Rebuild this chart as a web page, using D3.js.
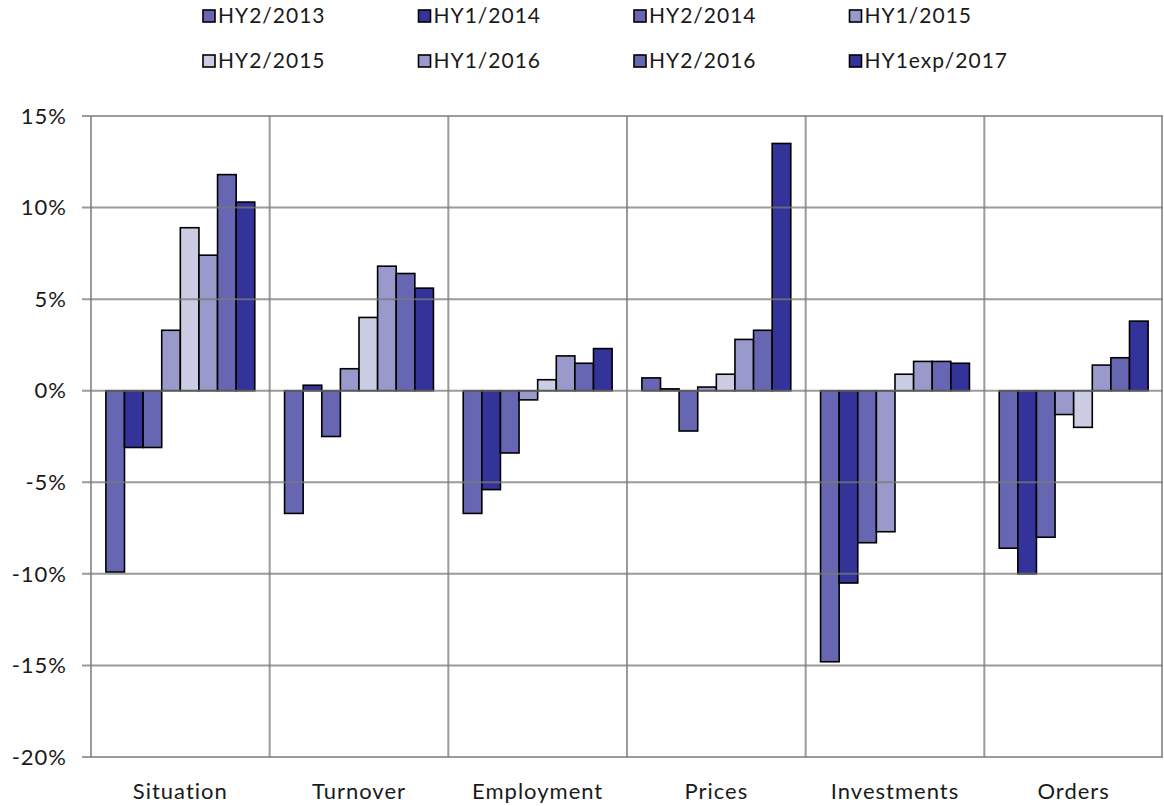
<!DOCTYPE html>
<html>
<head>
<meta charset="utf-8">
<script src="https://cdn.jsdelivr.net/npm/d3@7"></script>
<style>
  body { margin: 0; background: #fff; }
  text { font-family: "Lato", "Open Sans", sans-serif; fill: #1a1a1a; letter-spacing: 1px; }
</style>
</head>
<body>
<div id="chart"></div>
<script>
// chart values
var categories = ["Situation", "Turnover", "Employment", "Prices", "Investments", "Orders"];
var seriesNames = ["HY2/2013", "HY1/2014", "HY2/2014", "HY1/2015", "HY2/2015", "HY1/2016", "HY2/2016", "HY1exp/2017"];
var seriesColors = ["#6666b3", "#333399", "#6666b3", "#9999cc", "#ccccE5", "#9999cc", "#6666b3", "#333399"];
// values per series, in order of categories (percent)
var hy2_2013 = [-9.9, -6.7, -6.7, 0.7, -14.8, -8.6];
var hy1_2014 = [-3.1, 0.3, -5.4, 0.1, -10.5, -10.0];
var hy2_2014 = [-3.1, -2.5, -3.4, -2.2, -8.3, -8.0];
var hy1_2015 = [3.3, 1.2, -0.5, 0.2, -7.7, -1.3];
var hy2_2015 = [8.9, 4.0, 0.6, 0.9, 0.9, -2.0];
var hy1_2016 = [7.4, 6.8, 1.9, 2.8, 1.6, 1.4];
var hy2_2016 = [11.8, 6.4, 1.5, 3.3, 1.6, 1.8];
var hy1exp_2017 = [10.3, 5.6, 2.3, 13.5, 1.5, 3.8];
var yTicks = [-20, -15, -10, -5, 0, 5, 10, 15];

var seriesValues = [hy2_2013, hy1_2014, hy2_2014, hy1_2015, hy2_2015, hy1_2016, hy2_2016, hy1exp_2017];

var width = 1164, height = 806;
var margin = { top: 116, right: 1, bottom: 49, left: 91 };

var svg = d3.select("#chart").append("svg")
  .attr("width", width)
  .attr("height", height);

var x0 = d3.scaleBand()
  .domain(categories)
  .range([margin.left, width - margin.right])
  .paddingInner(0)
  .paddingOuter(0);

// gap of 0.8 bar width on each side of a group
var x1 = d3.scaleBand()
  .domain(seriesNames)
  .range([0, x0.bandwidth()])
  .paddingInner(0)
  .paddingOuter(0.8);

var y = d3.scaleLinear()
  .domain([-20, 15])
  .range([height - margin.bottom, margin.top]);

// bars
var rows = [];
categories.forEach(function (c, ci) {
  seriesNames.forEach(function (s, si) {
    rows.push({ cat: c, series: s, si: si, value: seriesValues[si][ci] });
  });
});

svg.append("g")
  .selectAll("rect")
  .data(rows)
  .enter()
  .append("rect")
  .attr("x", function (d) { return x0(d.cat) + x1(d.series); })
  .attr("y", function (d) { return y(Math.max(0, d.value)); })
  .attr("width", x1.bandwidth())
  .attr("height", function (d) { return Math.abs(y(d.value) - y(0)); })
  .attr("fill", function (d) { return seriesColors[d.si]; })
  .attr("stroke", "#000")
  .attr("stroke-width", 1.6);

// grid drawn over the bars, as in the original
var grid = svg.append("g").attr("stroke", "#7a7a7a").attr("stroke-opacity", 0.75).attr("stroke-width", 2);
grid.selectAll(".h")
  .data(yTicks)
  .enter()
  .append("line")
  .attr("x1", margin.left - 9)
  .attr("x2", width - margin.right)
  .attr("y1", function (d) { return y(d); })
  .attr("y2", function (d) { return y(d); });

var vx = categories.map(function (c) { return x0(c); }).concat([width - margin.right - 1]);
grid.selectAll(".v")
  .data(vx)
  .enter()
  .append("line")
  .attr("x1", function (d) { return d; })
  .attr("x2", function (d) { return d; })
  .attr("y1", y(15))
  .attr("y2", y(-20));

// y labels
svg.append("g")
  .selectAll("text")
  .data(yTicks)
  .enter()
  .append("text")
  .attr("x", 67)
  .attr("y", function (d) { return y(d); })
  .attr("dy", "0.35em")
  .attr("text-anchor", "end")
  .style("font-size", "22px")
  .text(function (d) { return d + "%"; });

// category labels
svg.append("g")
  .selectAll("text")
  .data(categories)
  .enter()
  .append("text")
  .attr("x", function (d) { return x0(d) + x0.bandwidth() / 2; })
  .attr("y", 791)
  .attr("dy", "0.35em")
  .attr("text-anchor", "middle")
  .style("font-size", "22px")
  .text(function (d) { return d; });

// legend, 4 columns x 2 rows
var legend = svg.append("g")
  .selectAll("g")
  .data(seriesNames)
  .enter()
  .append("g")
  .attr("transform", function (d, i) {
    return "translate(" + (203 + (i % 4) * 215.5) + "," + (16 + Math.floor(i / 4) * 45) + ")";
  });

legend.append("rect")
  .attr("x", 0)
  .attr("y", -6)
  .attr("width", 12)
  .attr("height", 12)
  .attr("fill", function (d, i) { return seriesColors[i]; })
  .attr("stroke", "#000")
  .attr("stroke-width", 1.6);

legend.append("text")
  .attr("x", 15)
  .attr("y", 0)
  .attr("dy", "0.35em")
  .style("font-size", "21px")
  .text(function (d) { return d; });
</script>
</body>
</html>
